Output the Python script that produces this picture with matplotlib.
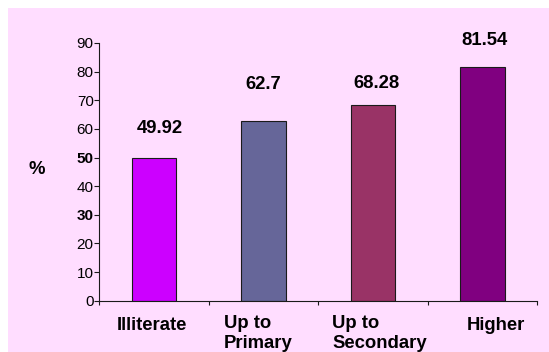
import matplotlib
matplotlib.use("Agg")
import matplotlib.pyplot as plt
from matplotlib.patches import Rectangle
from matplotlib.transforms import blended_transform_factory

plt.rcParams['font.family'] = ['Liberation Sans', 'DejaVu Sans']

# Data
categories = ["Illiterate", "Up to\nPrimary", "Up to\nSecondary", "Higher"]
values = [49.92, 62.7, 68.28, 81.54]
value_labels = ["49.92", "62.7", "68.28", "81.54"]
y_ticks = [0, 10, 20, 30, 40, 50, 60, 70, 80, 90]
y_tick_labels = ["0", "10", "20", "30", "40", "50", "60", "70", "80", "90"]
bold_ticks = ["50", "30"]

# Styling
bar_colors = ["#CC00FF", "#666699", "#993366", "#800080"]
bg_color = "#FFDDFF"
edge_color = "#1a1a1a"
W, H, DPI = 549, 352, 100
# value label offsets (pixels) from the top-centre of each bar
label_dx = [5.7, -0.8, 3.4, 2.4]
label_dy = [28.9, 36.9, 21.8, 26.3]
# category label placement (pixel offset from category centre, alignment)
cat_dx = [-2.3, -39.5, -40.7, 13.2]
cat_dy = [-16.5, -14.0, -14.0, -16.5]
cat_ha = ["center", "left", "left", "center"]

fig = plt.figure(figsize=(W / DPI, H / DPI), dpi=DPI, facecolor="white")
fig.add_artist(Rectangle((8 / W, 0), 1, (H - 8) / H, transform=fig.transFigure,
                         facecolor=bg_color, edgecolor="none", zorder=0))

ax = fig.add_axes([99.3 / W, (H - 300.7) / H, 438 / W, 257.7 / H])
ax.set_facecolor("none")

x = list(range(len(categories)))
ax.bar(x, values, width=0.405, color=bar_colors, edgecolor=edge_color,
       linewidth=0.8, zorder=2)

ax.set_xlim(-0.5, len(categories) - 0.5)
ax.set_ylim(0, 90)

for s in ["top", "right"]:
    ax.spines[s].set_visible(False)
for s in ["left", "bottom"]:
    ax.spines[s].set_color(edge_color)
    ax.spines[s].set_linewidth(0.8)

ax.set_yticks(y_ticks)
ax.set_yticklabels(y_tick_labels, fontsize=11)
for t in ax.get_yticklabels():
    if t.get_text() in bold_ticks:
        t.set_fontweight("bold")
ax.tick_params(axis="y", direction="out", length=3.5, width=0.8,
               color=edge_color, pad=0.5, labelcolor="black")

# category boundary ticks on the x axis
ax.set_xticks([i - 0.5 for i in range(len(categories) + 1)])
ax.set_xticklabels([])
ax.tick_params(axis="x", direction="out", length=3.0, width=0.8, color=edge_color)

px = 72 / DPI
for i, (v, lab) in enumerate(zip(values, value_labels)):
    ax.annotate(lab, xy=(i, v), xytext=(label_dx[i] * px, label_dy[i] * px),
                textcoords="offset points", ha="center", va="center",
                fontsize=13.3, fontweight="bold", color="black")

trans = blended_transform_factory(ax.transData, ax.transAxes)
for i, cat in enumerate(categories):
    ax.annotate(cat, xy=(i, 0), xycoords=trans,
                xytext=(cat_dx[i] * px, cat_dy[i] * px), textcoords="offset points",
                ha=cat_ha[i], va="top", multialignment="left",
                fontsize=13.3, fontweight="bold", linespacing=1.25,
                annotation_clip=False)

fig.text(37 / W, (H - 170) / H, "%", ha="center", va="center",
         fontsize=13.3, fontweight="bold")

fig.savefig("out.png", dpi=DPI, facecolor=fig.get_facecolor())
